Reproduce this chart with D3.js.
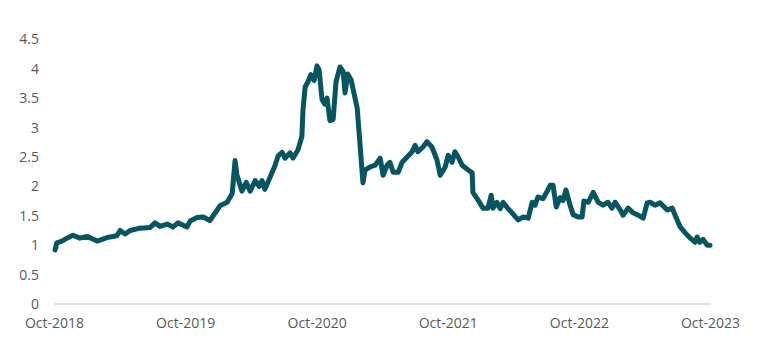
<!DOCTYPE html>
<html>
<head>
<meta charset="utf-8">
<script src="https://cdn.jsdelivr.net/npm/d3@7"></script>
<style>
  html, body { margin: 0; padding: 0; background: #ffffff; }
  svg { display: block; }
  text { font-family: "Open Sans", "Noto Sans", sans-serif; fill: #595959; }
</style>
</head>
<body>
<svg id="chart" width="783" height="350"></svg>
<script>
// ---- data ----
const dates = [
  "2018-10-04","2018-10-09","2018-10-23","2018-11-06","2018-11-23","2018-12-12",
  "2019-01-01","2019-01-29","2019-02-26","2019-03-25","2019-04-03","2019-04-17",
  "2019-05-01","2019-05-28","2019-06-25","2019-07-09","2019-07-23","2019-08-12",
  "2019-08-28","2019-09-11","2019-10-06","2019-10-15","2019-11-03","2019-11-20",
  "2019-12-09","2020-01-06","2020-01-26","2020-02-09","2020-02-17","2020-02-22",
  "2020-03-07","2020-03-19","2020-03-30","2020-04-13","2020-04-24","2020-05-02",
  "2020-05-10","2020-05-24","2020-06-07","2020-06-16","2020-06-27","2020-07-05",
  "2020-07-19","2020-07-27","2020-08-10","2020-08-21","2020-08-24","2020-08-30",
  "2020-09-07","2020-09-15","2020-09-24","2020-10-02","2020-10-08","2020-10-16",
  "2020-10-24","2020-10-30","2020-11-07","2020-11-16","2020-11-24","2020-12-05",
  "2020-12-14","2020-12-19","2020-12-27","2021-01-05","2021-01-10","2021-01-22",
  "2021-01-30","2021-02-07","2021-02-13","2021-02-27","2021-03-13","2021-03-27",
  "2021-04-04","2021-04-15","2021-04-23","2021-05-02","2021-05-16","2021-05-27",
  "2021-06-10","2021-06-24","2021-07-02","2021-07-10","2021-07-24","2021-08-04",
  "2021-08-18","2021-09-01","2021-09-10","2021-09-24","2021-10-02","2021-10-13",
  "2021-10-21","2021-10-30","2021-11-10","2021-11-27","2021-12-08","2021-12-10",
  "2021-12-24","2022-01-07","2022-01-21","2022-01-30","2022-02-04","2022-02-15",
  "2022-02-24","2022-03-04","2022-03-18","2022-04-01","2022-04-15","2022-04-29",
  "2022-05-13","2022-05-24","2022-06-01","2022-06-09","2022-06-23","2022-07-05",
  "2022-07-13","2022-07-21","2022-07-30","2022-08-10","2022-08-18","2022-08-26",
  "2022-09-06","2022-09-15","2022-09-29","2022-10-10","2022-10-15","2022-10-27",
  "2022-11-10","2022-11-24","2022-12-07","2022-12-21","2023-01-01","2023-01-10",
  "2023-01-24","2023-02-01","2023-02-15","2023-03-01","2023-03-15","2023-03-29",
  "2023-04-09","2023-04-17","2023-05-01","2023-05-15","2023-06-04","2023-06-18",
  "2023-06-26","2023-07-10","2023-07-24","2023-08-07","2023-08-21","2023-08-26",
  "2023-09-03","2023-09-12","2023-09-23","2023-10-01"
];
const values = [
  0.92,1.04,1.07,1.12,1.17,1.12,
  1.15,1.07,1.13,1.16,1.25,1.19,
  1.25,1.29,1.30,1.38,1.32,1.36,
  1.31,1.38,1.31,1.41,1.47,1.48,
  1.42,1.67,1.73,1.88,2.44,2.20,
  1.92,2.07,1.92,2.10,2.00,2.10,
  1.95,2.15,2.35,2.52,2.58,2.48,
  2.57,2.48,2.62,2.85,3.30,3.69,
  3.78,3.90,3.80,4.05,3.98,3.48,
  3.40,3.50,3.12,3.14,3.78,4.03,
  3.95,3.59,3.91,3.81,3.67,3.33,
  2.70,2.06,2.28,2.33,2.36,2.48,
  2.19,2.36,2.41,2.24,2.24,2.41,
  2.50,2.59,2.70,2.59,2.67,2.76,
  2.67,2.45,2.19,2.33,2.53,2.41,
  2.59,2.50,2.36,2.28,2.23,1.90,
  1.77,1.63,1.63,1.85,1.63,1.73,
  1.62,1.73,1.62,1.53,1.43,1.48,
  1.46,1.73,1.68,1.82,1.79,1.92,
  2.02,2.02,1.65,1.81,1.76,1.94,
  1.69,1.52,1.48,1.48,1.75,1.73,
  1.90,1.73,1.68,1.73,1.63,1.73,
  1.60,1.51,1.63,1.55,1.51,1.46,
  1.72,1.73,1.68,1.72,1.60,1.63,
  1.51,1.31,1.21,1.12,1.05,1.14,
  1.05,1.10,1.00,1.00
];
const yTicks = [0, 0.5, 1, 1.5, 2, 2.5, 3, 3.5, 4, 4.5];
const xTickDates = ["2018-10-01","2019-10-01","2020-10-01","2021-10-01","2022-10-01","2023-10-01"];

// ---- drawing ----
const parse = d3.utcParse("%Y-%m-%d");
const data = dates.map((d, i) => ({ date: parse(d), value: values[i] }));

const svg = d3.select("#chart");
const x = d3.scaleUtc()
  .domain([parse(xTickDates[0]), parse(xTickDates[xTickDates.length - 1])])
  .range([54, 710]);
const y = d3.scaleLinear().domain([0, 4.5]).range([304, 39.4]);

// baseline
svg.append("line")
  .attr("x1", 54).attr("x2", 711)
  .attr("y1", y(0)).attr("y2", y(0))
  .attr("stroke", "#d9d9d9").attr("stroke-width", 1.5);

// y axis labels
const yAxis = d3.axisLeft(y).tickValues(yTicks).tickSize(0).tickPadding(0)
  .tickFormat(d3.format("~g"));
const gy = svg.append("g").attr("transform", "translate(39,0)").call(yAxis);
gy.select(".domain").remove();
gy.selectAll("text").attr("font-size", 14).attr("fill", "#595959")
  .style("font-family", '"Open Sans", sans-serif');

// x axis labels
const xAxis = d3.axisBottom(x).tickValues(xTickDates.map(parse)).tickSize(0).tickPadding(0)
  .tickFormat(d3.utcFormat("%b-%Y"));
const gx = svg.append("g").attr("transform", "translate(0,318)").call(xAxis);
gx.select(".domain").remove();
gx.selectAll("text").attr("font-size", 14).attr("fill", "#595959")
  .style("font-family", '"Open Sans", sans-serif');

// line
const line = d3.line().x(d => x(d.date)).y(d => y(d.value));
svg.append("path")
  .datum(data)
  .attr("d", line)
  .attr("fill", "none")
  .attr("stroke", "#06555f")
  .attr("stroke-width", 5)
  .attr("stroke-linejoin", "round")
  .attr("stroke-linecap", "round");
</script>
</body>
</html>
